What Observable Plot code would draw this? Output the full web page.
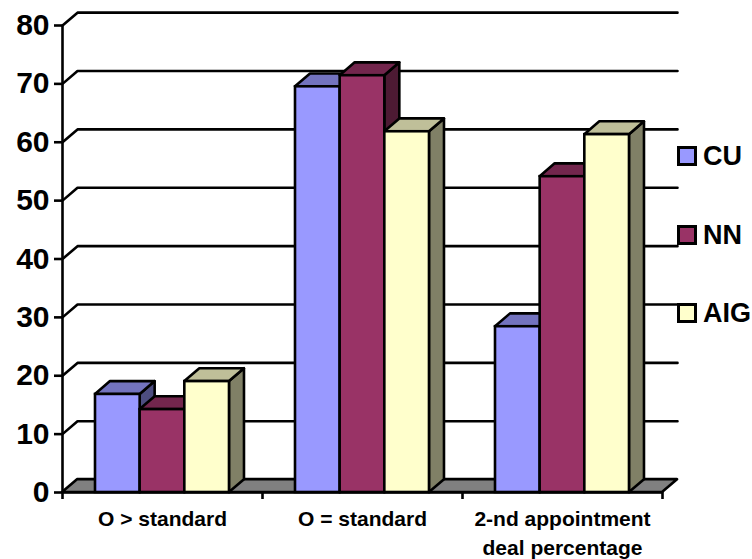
<!DOCTYPE html>
<html>
<head>
<meta charset="utf-8">
<script src="https://cdn.jsdelivr.net/npm/d3@7"></script>
<script src="https://cdn.jsdelivr.net/npm/@observablehq/plot@0.6"></script>
<style>
  html, body { margin: 0; background: #fff; }
  #chart { position: relative; width: 752px; height: 559px; overflow: hidden; font-family: "Liberation Sans", Arial, sans-serif; font-weight: bold; }
  #legend { position: absolute; left: 677px; top: 146px; }
  #legend .item { position: absolute; left: 0; display: flex; align-items: center; gap: 6px; font-size: 27px; height: 20px; line-height: 20px; color: #000; white-space: nowrap; }
  #legend .swatch { width: 14px; height: 14px; border: 3px solid #000; flex: none; }
</style>
</head>
<body>
<div id="chart"><div id="legend"></div></div>
<script>
const categories = ["O > standard", "O = standard", "2-nd appointment\ndeal percentage"];
const seriesNames = ["CU", "NN", "AIG"];
const cuValues = [16.8, 69.5, 28.4];
const nnValues = [14.2, 71.4, 54.1];
const aigValues = [19.0, 61.8, 61.3];
const frontColors = ["#9999ff", "#993366", "#ffffcc"];
const topColors = ["#7373bf", "#73264d", "#bfbf99"];
const sideColors = ["#4d4d80", "#4d1a33", "#808066"];
const gridValues = [10, 20, 30, 40, 50, 60, 70, 80];

// Oblique projection offsets, expressed in scale units.
const depthX = 0.075;
const depthY = 2.2;
const barWidth = 0.2233;
const groupStart = 0.165;

const allValues = [cuValues, nnValues, aigValues];
const bars = allValues.flatMap((values, s) => values.map((v, c) => {
  const x1 = c + groupStart + s * barWidth;
  return {s, c, v, x1, x2: x1 + barWidth};
}));

const line = {stroke: "#000", strokeWidth: 2.6};

// Wall gridlines: a diagonal up from the axis, then across the back.
const gridPoints = gridValues.flatMap(v => [
  {v, x: 0, y: v},
  {v, x: depthX, y: v + depthY},
  {v, x: categories.length + depthX, y: v + depthY}
]);
const floor = [
  {y: 0, x1: 0, x2: categories.length},
  {y: depthY, x1: depthX, x2: categories.length + depthX}
];

// One vertical-sided face and one horizontal-sided face per bar.
const sidePoints = s => bars.filter(b => b.s === s).flatMap(b => [
  {c: b.c, x: b.x2, y1: 0, y2: b.v},
  {c: b.c, x: b.x2 + depthX, y1: depthY, y2: b.v + depthY}
]);
const topPoints = s => bars.filter(b => b.s === s).flatMap(b => [
  {c: b.c, y: b.v, x1: b.x1, x2: b.x2},
  {c: b.c, y: b.v + depthY, x1: b.x1 + depthX, x2: b.x2 + depthX}
]);

const barMarks = seriesNames.flatMap((_, s) => [
  Plot.areaY(sidePoints(s), {x: "x", y1: "y1", y2: "y2", z: "c", fill: sideColors[s], ...line, strokeLinejoin: "round"}),
  Plot.areaX(topPoints(s), {y: "y", x1: "x1", x2: "x2", z: "c", fill: topColors[s], ...line, strokeLinejoin: "round"}),
  Plot.rect(bars.filter(b => b.s === s), {x1: "x1", x2: "x2", y1: 0, y2: "v", fill: frontColors[s], ...line})
]);

const plot = Plot.plot({
  width: 752,
  height: 559,
  marginTop: 25,
  marginBottom: 67,
  marginLeft: 62,
  marginRight: 90,
  style: {fontFamily: '"Liberation Sans", Arial, sans-serif', fontWeight: "bold", background: "transparent", overflow: "visible"},
  x: {type: "linear", domain: [0, categories.length]},
  y: {domain: [0, 80]},
  marks: [
    Plot.line(gridPoints, {x: "x", y: "y", z: "v", ...line}),
    Plot.areaX(floor, {y: "y", x1: "x1", x2: "x2", fill: "#808080", ...line}),
    ...barMarks,
    Plot.ruleX([0], {y1: 0, y2: 80, ...line}),
    Plot.ruleY([0], {x1: 0, x2: categories.length, ...line}),
    Plot.axisY({ticks: [0, ...gridValues], tickSize: 8, tickPadding: 5, fontSize: 30, label: null, strokeWidth: 2.6, color: "#000"}),
    Plot.axisX({ticks: d3.range(categories.length + 1), tickSize: 7, tickFormat: () => "", label: null, strokeWidth: 2.6}),
    Plot.text(categories, {x: (_, i) => i + 0.5, y: 0, text: d => d, fontSize: 21, lineHeight: 1.34, lineAnchor: "top", dy: 14, fill: "#000"})
  ]
});
document.getElementById("chart").prepend(plot);

// Side legend, stacked alongside the plot.
const legend = d3.select("#legend");
seriesNames.forEach((name, s) => {
  const item = legend.append("div").attr("class", "item").style("top", `${s * 78.5}px`);
  item.append("span").attr("class", "swatch").style("background", frontColors[s]);
  item.append("span").text(name);
});
</script>
</body>
</html>
